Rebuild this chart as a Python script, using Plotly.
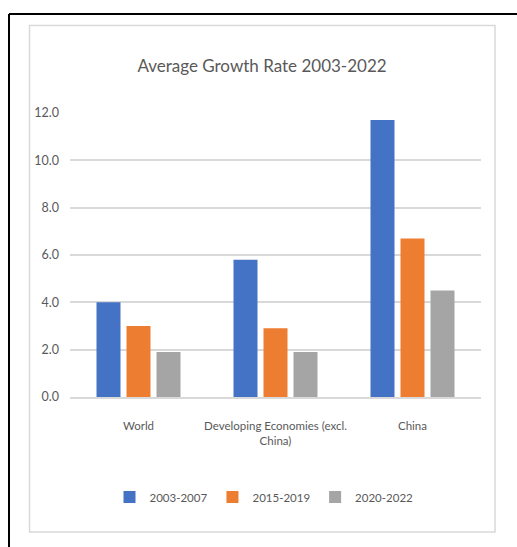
import plotly.graph_objects as go

categories = ["World", "Developing Economies (excl.<br>China)", "China"]
series_names = ["2003-2007", "2015-2019", "2020-2022"]
values_2003_2007 = [4.0, 5.8, 11.7]
values_2015_2019 = [3.0, 2.9, 6.7]
values_2020_2022 = [1.9, 1.9, 4.5]
colors = ["#4472C4", "#ED7D31", "#A5A5A5"]
y_ticks = [0, 2, 4, 6, 8, 10, 12]

FONT = "Lato, Liberation Sans Narrow, DejaVu Sans Condensed, sans-serif"
TXT = "#595959"

W_FIG, H_FIG = 517, 547
L, R, T, B = 70, 36, 113, 150
PW = W_FIG - L - R
PH = H_FIG - T - B


def px(x):
    return (x - L) / PW


def py(y):
    return (H_FIG - B - y) / PH


fig = go.Figure()
for name, vals, col in zip(series_names,
                           [values_2003_2007, values_2015_2019, values_2020_2022],
                           colors):
    fig.add_trace(go.Bar(x=categories, y=vals, name=name,
                         marker=dict(color=col, line=dict(width=0))))

fig.update_layout(
    width=W_FIG, height=H_FIG,
    margin=dict(l=L, r=R, t=T, b=B),
    paper_bgcolor="white", plot_bgcolor="white",
    barmode="group", bargap=0.343, bargroupgap=0.2,
    font=dict(family=FONT, color=TXT, size=13),
    title=dict(text="Average Growth Rate 2003-2022",
               font=dict(family=FONT, size=17, color=TXT),
               x=px(262), xref="paper", xanchor="center",
               y=1 - 66 / H_FIG, yref="container", yanchor="middle"),
    showlegend=True,
    legend=dict(orientation="h", x=px(264), y=py(497),
                xanchor="center", yanchor="middle",
                font=dict(family=FONT, size=11.5, color=TXT),
                itemwidth=30, traceorder="normal"),
    xaxis=dict(showgrid=False, showline=True, linecolor="#D9D9D9", linewidth=1.5,
               ticks="", tickfont=dict(family=FONT, size=11.5, color=TXT),
               ticklabelstandoff=17),
    yaxis=dict(range=[0, 12], tickvals=y_ticks, tickformat=".1f",
               showgrid=True, gridcolor="#D9D9D9", gridwidth=1.5,
               zeroline=False, showline=False, ticks="",
               tickfont=dict(family=FONT, size=12.5, color=TXT),
               ticklabelstandoff=10),
)

shapes = [
    # inner light-grey chart frame
    dict(type="rect", xref="paper", yref="paper",
         x0=px(29.5), x1=px(495), y0=py(25.5), y1=py(532),
         line=dict(color="#D9D9D9", width=1.5), fillcolor="rgba(0,0,0,0)",
         layer="below"),
    # black outer border (top and left)
    dict(type="line", xref="paper", yref="paper",
         x0=px(9), x1=px(520), y0=py(14), y1=py(14),
         line=dict(color="black", width=2)),
    dict(type="line", xref="paper", yref="paper",
         x0=px(9), x1=px(9), y0=py(14), y1=py(550),
         line=dict(color="black", width=2)),
]
fig.update_layout(shapes=shapes)

fig.write_html("out.html")
